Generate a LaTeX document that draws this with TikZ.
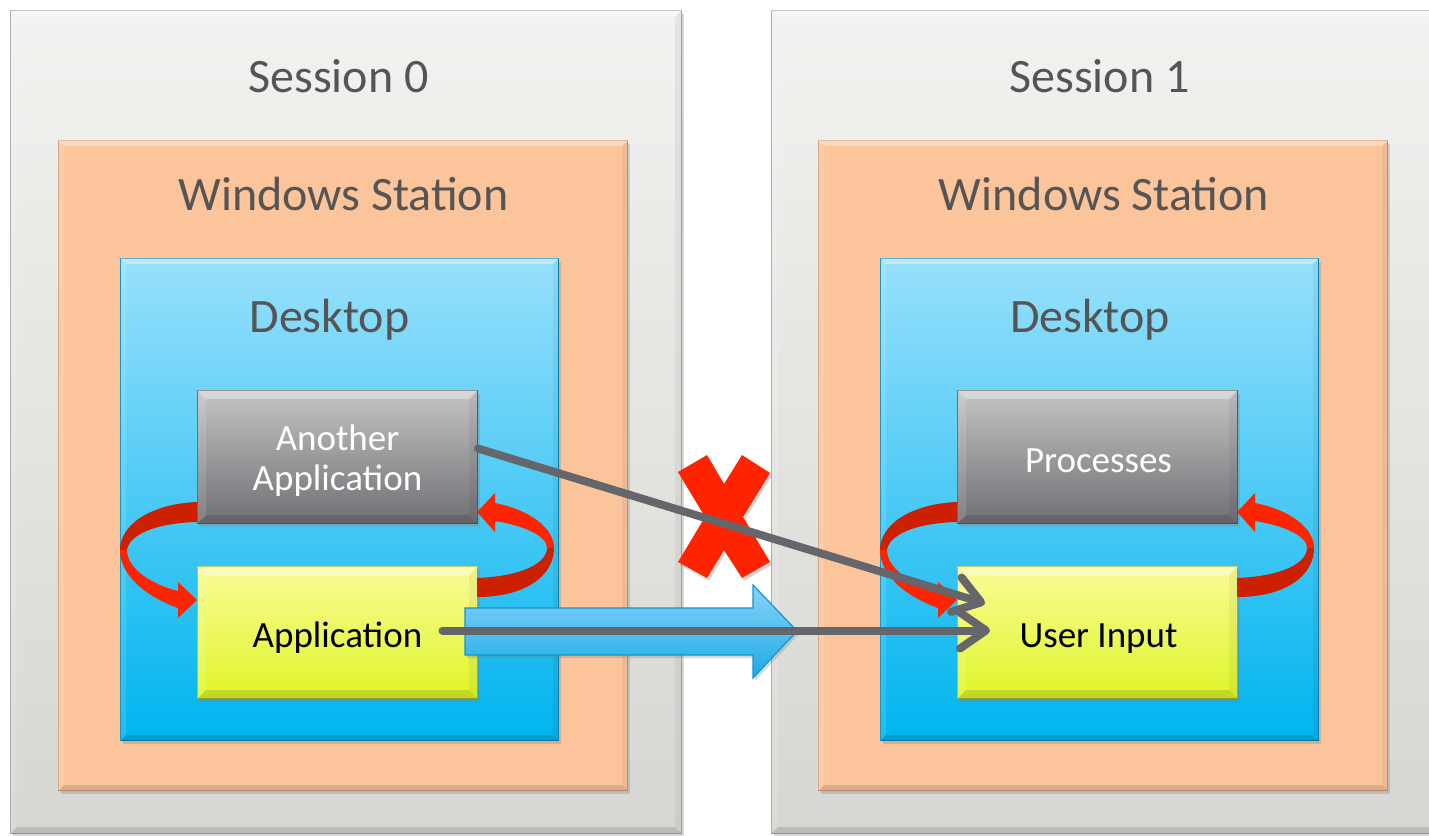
\documentclass[tikz,border=0pt]{standalone}
\usepackage{fontspec}
\setmainfont{Carlito}
\usetikzlibrary{arrows.meta,shadows,calc}
\definecolor{sesstop}{RGB}{242,242,240}
\definecolor{sessbot}{RGB}{214,214,210}
\definecolor{sessline}{RGB}{165,165,162}
\definecolor{wsfill}{RGB}{252,196,155}
\definecolor{wsline}{RGB}{205,155,120}
\definecolor{dtop}{RGB}{152,224,252}
\definecolor{dbot}{RGB}{0,180,238}
\definecolor{dline}{RGB}{0,135,185}
\definecolor{gtop}{RGB}{196,196,198}
\definecolor{gbot}{RGB}{112,112,116}
\definecolor{gline}{RGB}{90,90,94}
\definecolor{ytop}{RGB}{250,252,150}
\definecolor{ybot}{RGB}{222,245,40}
\definecolor{yline}{RGB}{170,185,40}
\definecolor{txtgray}{RGB}{85,85,85}
\definecolor{redA}{RGB}{255,36,0}
\definecolor{redB}{RGB}{205,32,0}
\definecolor{arrgray}{RGB}{100,102,108}
\definecolor{btop}{RGB}{135,212,250}
\definecolor{bbot}{RGB}{30,170,230}
\definecolor{bline}{RGB}{20,150,200}
\tikzset{
  box/.style={rectangle, inner sep=0pt, anchor=north west},
  shad/.style={drop shadow={shadow xshift=2pt, shadow yshift=-3pt, opacity=0.3}},
  sess/.style={box, shad, top color=sesstop, bottom color=sessbot, draw=sessline, line width=1pt},
  ws/.style={box, shad, fill=wsfill, draw=wsline, line width=1pt},
  desk/.style={box, shad, top color=dtop, bottom color=dbot, draw=dline, line width=1pt},
  gbox/.style={box, shad, top color=gtop, bottom color=gbot, draw=gline, line width=1pt},
  ybox/.style={box, shad, top color=ytop, bottom color=ybot, draw=yline, line width=1pt},
  bigtxt/.style={text=txtgray, inner sep=0pt, anchor=base, font=\fontsize{48}{57}\selectfont},
  smalltxt/.style={inner sep=0pt, anchor=base, font=\fontsize{37}{40}\selectfont},
  garrow/.style={draw=arrgray, line width=8pt, line cap=round,
    -{Straight Barb[length=26pt,width=36pt,round]}},
  ribA/.style={fill=redA},
  ribB/.style={fill=redB},
  bevhi/.style={fill=white, fill opacity=0.35},
  bevlo/.style={fill=black, fill opacity=0.12},
}
\newcommand\mybevel[2]{%
  \path[bevhi] (#1.north west) -- (#1.north east) -- ($(#1.north east)+(-#2,#2)$) -- ($(#1.north west)+(#2,#2)$) -- cycle;
  \path[bevlo] (#1.south west) -- (#1.south east) -- ($(#1.south east)+(-#2,-#2)$) -- ($(#1.south west)+(#2,-#2)$) -- cycle;
  \path[bevlo, fill opacity=0.05] (#1.north east) -- (#1.south east) -- ($(#1.south east)+(-#2,-#2)$) -- ($(#1.north east)+(-#2,#2)$) -- cycle;
  \path[bevhi, fill opacity=0.12] (#1.north west) -- (#1.south west) -- ($(#1.south west)+(#2,-#2)$) -- ($(#1.north west)+(#2,#2)$) -- cycle;
}
\begin{document}
\begin{tikzpicture}[x=1pt,y=-1pt]
\useasboundingbox (0,0) rectangle (1429,835);
\fill[white] (0,0) rectangle (1429,835);
% session frames
\node[sess, minimum width=671pt, minimum height=823pt] (s0) at (10,10) {};
\node[sess, minimum width=671pt, minimum height=823pt] (s1) at (771,10) {};
\mybevel{s0}{7}\mybevel{s1}{7}
\node[ws, minimum width=569pt, minimum height=650pt] (w0) at (58,140) {};
\node[ws, minimum width=569pt, minimum height=650pt] (w1) at (818,140) {};
\mybevel{w0}{6}\mybevel{w1}{6}
\node[desk, minimum width=438pt, minimum height=482pt] (d0) at (120,258) {};
\node[desk, minimum width=438pt, minimum height=482pt] (d1) at (880,258) {};
\mybevel{d0}{6}\mybevel{d1}{6}
\node[gbox, minimum width=280pt, minimum height=133pt] (aa) at (197,390) {};
\node[gbox, minimum width=280pt, minimum height=133pt] (pr) at (957,390) {};
\mybevel{aa}{9}\mybevel{pr}{9}
\node[ybox, minimum width=280pt, minimum height=132pt] (app) at (197,566) {};
\node[ybox, minimum width=280pt, minimum height=132pt] (ui) at (957,566) {};
\mybevel{app}{9}\mybevel{ui}{9}
% titles
\node[bigtxt] (t0) at (338.5,92) {Session 0};
\node[bigtxt] (t1) at (1099.5,92) {Session 1};
\node[bigtxt] (wt0) at (343.5,210) {Windows Station};
\node[bigtxt] (wt1) at (1104,210) {Windows Station};
\node[bigtxt] (dt0) at (329.5,332) {Desktop};
\node[bigtxt] (dt1) at (1090,332) {Desktop};
\node[smalltxt, text=white, align=center] (aat) at (337.5,490) {Another\\Application};
\node[smalltxt, text=white] (prt) at (1098.5,472) {Processes};
\node[smalltxt, text=black] (appt) at (337.5,647) {Application};
\node[smalltxt, text=black] (uit) at (1098.5,647) {User Input};
% red circulating ribbons
\foreach \dx in {0,760}{
\begin{scope}[xshift=\dx pt]
  \path[ribB] (197,502) .. controls (150,504) and (120,525) .. (120,550)
     -- (127,550) .. controls (129,535) and (155,523) .. (197,522) -- cycle;
  \path[ribA] (120,550) .. controls (120,575) and (145,596) .. (178,608)
     -- (178,618) -- (197,600) -- (178,582) -- (178,591)
     .. controls (150,584) and (127,568) .. (127,550) -- cycle;
  \path[ribB] (477,578) .. controls (525,576) and (547,562) .. (547,548)
     -- (554,548) .. controls (554,576) and (525,597) .. (477,597) -- cycle;
  \path[ribA] (547,548) -- (554,548) .. controls (554,528) and (530,510) .. (495,503)
     -- (495,493) -- (477,512) -- (495,532) -- (495,521)
     .. controls (525,526) and (547,536) .. (547,548) -- cycle;
\end{scope}
}
% blue block arrow
\path[top color=btop, bottom color=bbot, draw=bline, line width=1.2pt, shad]
  (465,608) -- (753,608) -- (753,585) -- (797,631) -- (753,678) -- (753,655) -- (465,655) -- cycle;
% red X
\path[fill=redA, shad] (678,472) -- (707,455) -- (724,484) -- (742,455) -- (770,473) -- (743,517)
  -- (770,562) -- (742,578) -- (724,550) -- (707,578) -- (678,562) -- (705,517) -- cycle;
% gray arrows
\draw[garrow] ([yshift=8.5pt]aa.east) -- ([xshift=28pt,yshift=29pt]ui.west);
\draw[garrow] ([xshift=105pt,yshift=2pt]app.center) -- ([xshift=33pt,yshift=2pt]ui.west);
\end{tikzpicture}
\end{document}
